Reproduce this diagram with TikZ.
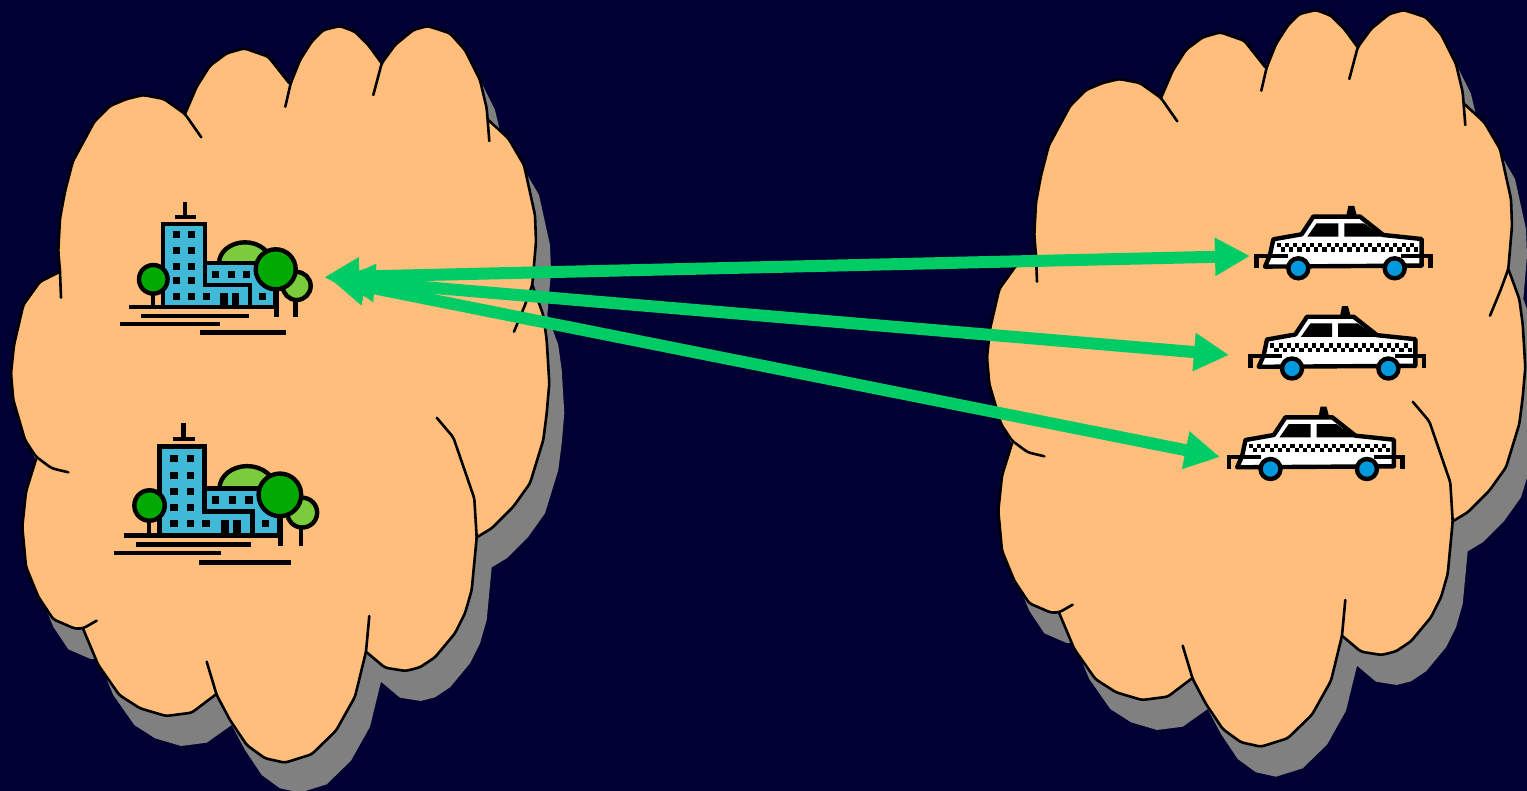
\documentclass[tikz,border=0pt]{standalone}
\usetikzlibrary{arrows.meta}
\definecolor{nightsky}{RGB}{0,0,51}
\definecolor{cloudfill}{RGB}{255,190,123}
\definecolor{cloudshade}{RGB}{128,128,128}
\definecolor{linkgreen}{RGB}{0,204,102}
\definecolor{glassblue}{RGB}{64,184,216}
\definecolor{leafdark}{RGB}{0,170,0}
\definecolor{leaflight}{RGB}{122,204,60}
\definecolor{wheelblue}{RGB}{0,153,221}
\newcommand{\cloudpath}{(60,271.7) -- (58.3,251) -- (60,218.3) -- (65,191.7) -- (72.7,161.7) -- (94.3,121.7) -- (110,106) -- (126.7,99) -- (143.3,95) -- (164,99) -- (185,114)
    -- (196.7,86.7) -- (210,65.7) -- (226.7,53.3) -- (244.3,48.3) -- (268.3,56.7) -- (289.3,83.3)
    -- (300,60) -- (311.7,41.7) -- (323.3,30) -- (340,26) -- (355,31.7) -- (368.3,45) -- (381.7,63.3)
    -- (395,45) -- (413.3,30) -- (427.7,26) -- (450,33.3) -- (465,50) -- (480,80) -- (486.7,108.3) -- (488.3,120)
    -- (508.3,138.3) -- (524,165) -- (535,215) -- (536,241.7) -- (532.3,285)
    -- (543.3,315) -- (546.7,340) -- (549.3,383.3) -- (546.7,413.3) -- (543.3,440) -- (530,483.3) -- (513.3,506.7) -- (491.7,528.3) -- (476.7,537.3)
    -- (471.7,590) -- (465,613.3) -- (455,633.3) -- (435,657.3) -- (420,667.3) -- (405.7,671) -- (385,667.7) -- (366,651.7)
    -- (355,696.7) -- (336,730.7) -- (311.7,754.3) -- (285,762.7) -- (265,758.3) -- (246.7,745) -- (230,720) -- (216.7,695)
    -- (191.7,712.7) -- (166,716) -- (140,708.3) -- (119.3,695) -- (98.3,665) -- (83.3,629.3)
    -- (75,628.7) -- (53.3,619.3) -- (38.3,596.7) -- (26,566.7) -- (22.3,526.7) -- (26,491.7) -- (36,459.3)
    -- (25,440) -- (13.3,400) -- (11,373.3) -- (14,345) -- (23.3,305) -- (40,281.7) -- cycle}
\tikzset{
    cloudline/.style={line width=1.3pt, line join=round, line cap=round, rounded corners=1.5pt},
    inkline/.style={line width=2.2pt},
    link/.style={linkgreen, line width=6pt, {Triangle[length=17.5pt,width=18pt]}-{Triangle[length=17.5pt,width=18pt]}},
    cloudblob/.pic={
        \fill[cloudshade, shift={(15,30)}] \cloudpath;
        \fill[cloudfill] \cloudpath;
        \draw[cloudline] (61,297.7) -- (60,271.7) -- (58.3,251) -- (60,218.3) -- (65,191.7) -- (72.7,161.7) -- (94.3,121.7) -- (110,106) -- (126.7,99) -- (143.3,95) -- (164,99) -- (185,114) -- (201.3,137.3);
        \draw[cloudline] (185,114) -- (196.7,86.7) -- (210,65.7) -- (226.7,53.3) -- (244.3,48.3) -- (268.3,56.7) -- (289.3,83.3);
        \draw[cloudline] (285.3,106.7) -- (290.7,83.3) -- (300,60) -- (311.7,41.7) -- (323.3,30) -- (340,26) -- (355,31.7) -- (368.3,45) -- (381.7,63.3);
        \draw[cloudline] (373.3,95) -- (381.7,63.3) -- (395,45) -- (413.3,30) -- (427.7,26) -- (450,33.3) -- (465,50) -- (480,80) -- (486.7,108.3) -- (489.3,141);
        \draw[cloudline] (488.3,120) -- (508.3,138.3) -- (524,165) -- (535,215) -- (536,241.7) -- (532.3,285) -- (525,305) -- (514,331.7);
        \draw[cloudline] (532.3,285) -- (543.3,315) -- (546.7,340) -- (549.3,383.3) -- (546.7,413.3) -- (543.3,440) -- (530,483.3) -- (513.3,506.7) -- (491.7,528.3) -- (476.7,537.3);
        \draw[cloudline] (436.7,417.7) -- (453.3,437.3) -- (474.3,498.3) -- (476.7,537.3) -- (471.7,590) -- (465,613.3) -- (455,633.3) -- (435,657.3) -- (420,667.3) -- (405.7,671) -- (385,667.7) -- (366,651.7);
        \draw[cloudline] (369.3,616) -- (366,651.7) -- (355,696.7) -- (336,730.7) -- (311.7,754.3) -- (285,762.7) -- (265,758.3) -- (246.7,745) -- (230,720) -- (216.7,695) -- (206.7,661.7);
        \draw[cloudline] (216,694.3) -- (191.7,712.7) -- (166,716) -- (140,708.3) -- (119.3,695) -- (98.3,665) -- (83.3,629.3);
        \draw[cloudline] (96.7,620.7) -- (83.3,628.3) -- (75,628.7) -- (53.3,619.3) -- (38.3,596.7) -- (26,566.7) -- (22.3,526.7) -- (26,491.7) -- (36,459.3);
        \draw[cloudline] (68.3,472.3) -- (51.7,468.3) -- (36,456.7) -- (25,440) -- (13.3,400) -- (11,373.3) -- (14,345) -- (23.3,305) -- (40,281.7) -- (60,271.7);
    },
    office/.pic={
        \draw[inkline] (0,-105) -- (0,-90);
        \draw[inkline] (-10,-90) -- (10.7,-90);
        \draw[inkline, fill=leaflight] (60,-43.7) ellipse (26 and 21);
        \draw[inkline, fill=glassblue] (-22.3,-83) -- (20,-83) -- (20,-43.7) -- (90,-43.7) -- (90,0) -- (-22.3,0) -- cycle;
        \draw[inkline] (20,-83) -- (20,-22) -- (65,-22) -- (65,0);
        \foreach \wx/\wy in {-8.7/-72,6.7/-72,-8.7/-56,6.7/-56,-8.7/-40.7,6.7/-40.7,-8.7/-26,6.7/-26,-8.7/-10.7,6.7/-10.7,21.3/-10.7,30.3/-32.7,46.3/-32.7,61.7/-32.7,77.3/-10.7}
            \fill ({\wx-3.5},{\wy-3.5}) rectangle +(7,7);
        \fill (35,-13.7) rectangle (43.3,0);
        \fill (46.7,-13.7) rectangle (54.3,0);
        \draw[inkline] (110.3,-5.3) -- (110.3,10.3);
        \draw[inkline, fill=leaflight] (111.7,-21) circle (14);
        \draw[inkline] (91.3,-17) -- (91.3,10);
        \draw[inkline, fill=leafdark] (90.7,-37.7) circle (20);
        \draw[inkline] (-32,-12) -- (-32,0);
        \draw[inkline, fill=leafdark] (-31.7,-27.7) circle (14.3);
        \draw[inkline] (-56,0.3) -- (90,0.3);
        \draw[inkline] (-44,9) -- (64,9);
        \draw[inkline] (-65,17) -- (35,17);
        \draw[inkline] (15,25.7) -- (101,25.7);
    },
    taxi/.pic={
        \fill (47.7,-51) -- (50,-62.3) -- (56,-62.3) -- (59,-51) -- cycle;
        \draw[inkline, fill=white, line join=round] (-33.3,-1.7) -- (-28.3,-13.3) -- (-25,-29) -- (3.3,-34) -- (15,-51.7) -- (61.7,-51.7) -- (85,-33.3) -- (123.3,-29.3) -- (123.3,-2.7) -- cycle;
        \fill (9,-31.7) -- (18.3,-45) -- (40,-45) -- (40,-31.7) -- cycle;
        \fill (46,-45) -- (65.7,-45) -- (85,-31.7) -- (46,-31.7) -- cycle;
        \foreach \i in {0,...,16} {
            \fill ({-21.7+\i*8.33},-25) rectangle +(4.17,4.17);
            \fill ({-17.53+\i*8.33},-20.83) rectangle +(4.17,4.17);
        }
        \draw[inkline] (-41.7,0) -- (-41.7,-12.3) -- (-10,-12.3);
        \draw[inkline] (103,-12.3) -- (132,-12.3) -- (132,0);
        \draw[inkline, fill=wheelblue] (0,0) circle (10);
        \draw[inkline, fill=wheelblue] (96.4,0) circle (10);
    },
}
\begin{document}
\begin{tikzpicture}[x=0.5pt, y=-0.5pt]
    \useasboundingbox (0,0) rectangle (1527,791);
    \clip (0,0) rectangle (1527,791);
    \fill[nightsky] (0,0) rectangle (1527,791);
    \pic (cloudLeft) at (0,0) {cloudblob};
    \pic (cloudRight) at (976,-16) {cloudblob};
    \pic (officeTop) at (185,307) {office};
    \pic[scale=1.065] (officeBottom) at (183.3,535) {office};
    \pic (taxiTop) at (1298.3,268.3) {taxi};
    \pic (taxiMiddle) at (1292,368.5) {taxi};
    \pic (taxiBottom) at (1270.5,469) {taxi};
    \coordinate (officeEndA) at (324.3,277.3);
    \coordinate (officeEndB) at (340,280);
    \coordinate (officeEndC) at (331,279.7);
    \coordinate (taxiEndA) at (1250,256);
    \coordinate (taxiEndB) at (1229,355);
    \coordinate (taxiEndC) at (1220,457);
    \draw[link] (officeEndA) -- (taxiEndA);
    \draw[link] (officeEndB) -- (taxiEndB);
    \draw[link] (officeEndC) -- (taxiEndC);
\end{tikzpicture}
\end{document}
